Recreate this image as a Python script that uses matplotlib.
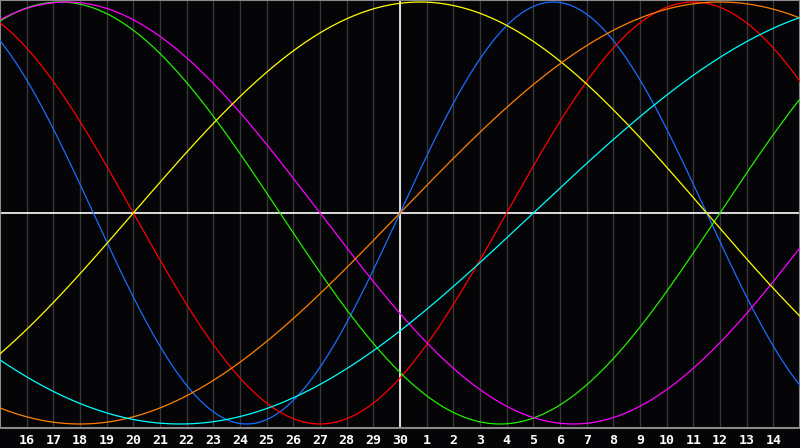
import numpy as np
from matplotlib import pyplot as plt


# Cycle lengths (days) and the day (relative to centre "30") where each curve crosses zero going up
periods = [23, 28, 33, 38, 43, 48, 53]
zero_up_day = [0, 4, 12, 16, -10, 0, 5]
colors = ['#1a6cff', '#ff0000', '#22ee00', '#ff00ff', '#ffff00', '#ff8000', '#00ffff']

# Tick labels under the grid lines, days -14 .. 14
day_labels = [str(d) for d in range(16, 31)] + [str(d) for d in range(1, 15)]

BG = '#050508'


def main():
    fig = plt.figure(figsize=(8, 4.48), dpi=100, facecolor=BG)
    ax = fig.add_axes([0, 20 / 448, 1, 428 / 448])
    ax.set_facecolor(BG)

    ax.set_xlim(-15, 15)
    ax.set_ylim(-215 / 211, 213 / 211)

    # grid lines for every day
    for d in range(-14, 15):
        ax.axvline(d, color='#38383b', lw=1, zorder=1)

    # centre cross
    ax.axvline(0, color='white', lw=1.2, zorder=2)
    ax.axhline(0, color='white', lw=1.2, zorder=2)

    t = np.linspace(-15, 15, 1201)
    for p, z, c in zip(periods, zero_up_day, colors):
        ax.plot(t, np.sin(2 * np.pi * (t - z) / p), color=c, lw=0.9, zorder=3)

    ax.set_xticks(range(-14, 15))
    ax.set_xticklabels(day_labels, color='white', fontsize=9.5, fontweight='bold',
                       family='DejaVu Sans Mono')
    ax.tick_params(axis='x', length=0, pad=4)
    ax.set_yticks([])

    for side in ['left', 'top', 'right', 'bottom']:
        ax.spines[side].set_color('#8a8a8a')
        ax.spines[side].set_linewidth(1.5)

    fig.savefig('out.png', dpi=100, facecolor=BG)
    plt.close()


if __name__ == '__main__':
    main()
